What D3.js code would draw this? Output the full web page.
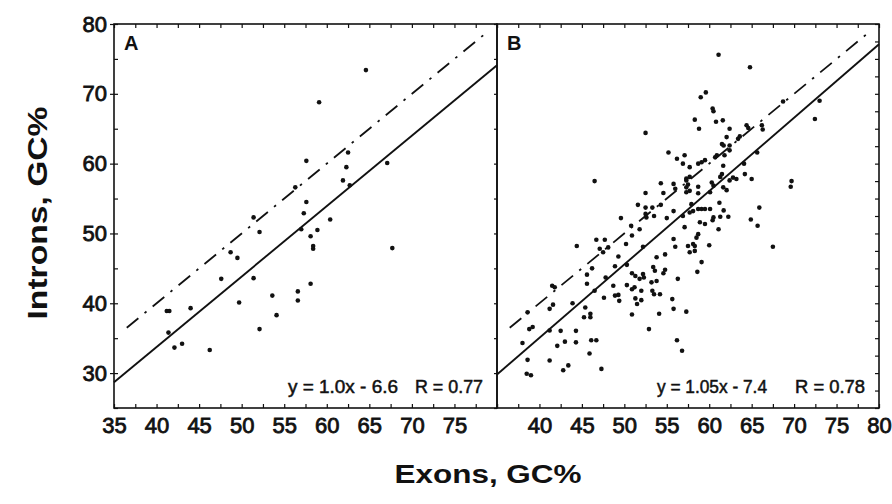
<!DOCTYPE html>
<html><head><meta charset="utf-8">
<script src="https://cdn.jsdelivr.net/npm/d3@7"></script>
<style>
html,body{margin:0;padding:0;background:#fff;}
svg text{font-family:"Liberation Sans",Arial,Helvetica,sans-serif;fill:#111;}
</style></head>
<body><svg id="chart" width="892" height="504"></svg>
<script>
// ---------- data ----------
const panelLabels = ["A", "B"];
const xTicksA = [35, 40, 45, 50, 55, 60, 65, 70, 75];
const xTicksB = [40, 45, 50, 55, 60, 65, 70, 75, 80];
const yTicks = [30, 40, 50, 60, 70, 80];
const xTitle = "Exons, GC%";
const yTitle = "Introns, GC%";
const eqA = ["y = 1.0x - 6.6", "R = 0.77"];
const eqB = ["y = 1.05x - 7.4", "R = 0.78"];
// regression line end points
const fitA = [[35, 28.7], [80, 74.1]];
const fitB = [[35, 29.8], [80, 77.1]];
// y = x reference (dash-dot) line, visible extent
const identity = [[36.5, 36.5], [78.7, 78.7]];

// Panel A points: exon GC%, intron GC%
const exonA = [64.6,59.1,57.6,62.5,62.3,67.1,61.9,62.7,56.3,57.6,51.4,57.3,52.1,57.0,60.4,58.1,58.9,58.4,58.4,67.7,48.7,49.5,47.6,51.4,58.1,56.6,53.6,56.6,49.7,54.1,41.2,41.5,44.0,41.4,42.1,43.0,46.25,52.1];
const intronA = [73.4,68.8,60.4,61.6,59.5,60.1,57.6,56.9,56.6,54.5,52.3,52.9,50.2,50.6,52.0,49.6,50.5,48.2,47.8,47.9,47.3,46.5,43.5,43.6,42.8,41.7,41.1,40.4,40.1,38.3,38.9,38.9,39.3,35.8,33.65,34.2,33.3,36.3];

// Panel B points
const exonB = [52.5,46.5,55.2,56.2,56.9,57.1,54.3,55.8,56.0,57.3,52.5,54.6,51.6,52.5,52.5,52.6,53.3,54.3,53.5,55.0,55.8,56.9,49.6,50.8,51.8,57.1,50.9,46.7,47.7,50.2,44.4,47.1,47.5,48.1,55.8,56.0,57.5,49.3,48.9,52.2,53.8,54.8,
 46.2,45.6,45.6,50.3,47.8,50.9,51.3,51.8,52.2,52.3,53.4,53.6,54.6,54.8,56.3,48.7,50.3,50.9,51.2,52.0,53.2,53.3,53.5,53.8,54.2,48.9,49.3,49.4,47.6,51.3,51.5,52.0,55.65,55.8,57.3,50.9,54.1,52.9,56.2,56.8,46.5,45.4,46.0,46.0,45.25,43.9,44.3,44.3,46.1,46.7,45.9,47.3,42.5,43.0,42.1,41.2,43.4,42.8,41.2,41.2,41.6,41.5,41.8,38.8,39.2,38.6,38.0,38.6,38.5,39.0,
 60.1,61.2,61.7,62.25,61.3,60.5,60.4,58.7,59.1,59.5,60.1,58.1,57.7,57.9,58.9,59.5,61.1,58.7,58.5,58.1,58.3,60.0,57.7,58.3,59.1,58.6,65.9,64.9,65.7,67.5,
 61.1,64.8,59.0,59.6,60.4,60.5,58.3,58.8,60.8,61.6,62.4,64.4,64.6,66.2,66.3,68.7,73.0,72.45,62.05,63.4,63.6,61.5,61.7,62.4,62.4,60.9,60.7,61.8,59.5,58.7,57.7,61.65,61.5,61.3,64.2,65.0,62.8,63.2,62.4,61.65,62.05,60.3,60.5,58.7,57.5,57.3,57.7,58.7,57.3,69.7,69.6,65.65,64.1,59.1,57.3,57.7];
const intronB = [64.4,57.5,61.6,60.7,60.0,61.2,57.2,57.1,56.4,56.6,55.8,55.8,54.1,53.7,52.8,52.3,53.7,54.1,52.5,52.2,53.2,52.5,52.2,51.1,50.6,50.9,49.7,49.1,49.1,48.5,48.2,47.8,47.3,48.0,49.2,48.1,48.2,46.7,45.3,48.1,46.6,47.0,
 45.0,44.1,42.8,45.5,43.7,44.3,43.9,43.5,44.2,43.7,45.2,44.65,44.3,44.8,43.5,42.5,42.6,42.0,42.3,41.8,43.0,41.8,41.3,43.2,41.3,41.1,41.2,40.35,40.8,40.7,39.9,40.45,40.6,39.2,38.8,38.4,38.5,36.3,34.7,33.2,41.8,39.4,38.5,38.0,38.0,40.0,36.05,34.4,34.7,34.7,32.8,30.6,36.05,34.5,33.9,31.8,31.1,30.4,36.1,39.2,39.8,42.5,42.3,36.3,36.6,38.7,34.3,31.9,29.9,29.7,
 55.9,54.4,53.3,52.4,52.4,52.3,51.9,53.5,53.5,53.5,53.5,53.2,53.0,54.2,51.6,51.35,50.6,49.9,49.4,48.5,48.2,48.3,47.3,47.5,45.9,44.5,53.7,52.0,51.1,48.1,
 75.6,73.8,69.5,70.2,67.9,67.5,66.3,65.0,66.0,66.2,65.0,65.5,65.1,65.5,64.9,68.9,69.0,66.4,63.8,63.55,63.9,62.8,62.6,62.6,61.9,61.2,60.9,61.2,60.5,60.0,59.5,59.7,58.5,58.1,58.5,57.8,58.0,57.8,57.6,56.6,56.2,57.3,56.85,56.7,57.0,57.85,58.1,55.75,55.9,57.5,56.7,61.6,60.0,60.2,57.6,56.1];

// ---------- drawing ----------
const svg = d3.select("#chart");
const y = d3.scaleLinear().domain([25, 80]).range([408, 24]);
const xA = d3.scaleLinear().domain([35, 80]).range([114, 497]);
const xB = d3.scaleLinear().domain([35, 80]).range([497, 879]);
const minorX = d3.range(35, 80.01, 2.5);
const minorY5 = d3.range(25, 80.01, 5);
const minorY25 = d3.range(25, 80.01, 2.5);

const labelFont = "22px";

function styleLabels(sel) {
  sel.selectAll("text").style("font-size", labelFont).attr("fill", "#111")
    .attr("stroke", "#111").attr("stroke-width", 0.8);
}

function panel(x, ex, inn, fit, eq, label, xTicks, isA, eqPos) {
  const g = svg.append("g");
  const [x0, x1] = x.range();
  const [y0, y1] = y.range();
  // frame
  g.append("rect").attr("x", x0).attr("y", y1).attr("width", x1 - x0).attr("height", y0 - y1)
    .attr("fill", "none").attr("stroke", "#111").attr("stroke-width", 1.6);

  // bottom minor ticks (inward)
  g.append("g").attr("transform", `translate(0,${y0})`)
    .call(d3.axisBottom(x).tickValues(minorX).tickSize(-4).tickFormat(""))
    .call(s => s.select(".domain").remove())
    .selectAll("line").attr("stroke", "#111").attr("stroke-width", 1.2);
  // top minor ticks (inward)
  g.append("g").attr("transform", `translate(0,${y1})`)
    .call(d3.axisTop(x).tickValues(minorX).tickSize(-4).tickFormat(""))
    .call(s => s.select(".domain").remove())
    .selectAll("line").attr("stroke", "#111").attr("stroke-width", 1.2);
  // bottom labels
  const lab = g.append("g").attr("transform", `translate(0,${y0})`)
    .call(d3.axisBottom(x).tickValues(xTicks).tickSize(0).tickPadding(9).tickFormat(d3.format("d")));
  lab.select(".domain").remove();
  styleLabels(lab);

  if (isA) {
    const ly = g.append("g").attr("transform", `translate(${x0},0)`)
      .call(d3.axisLeft(y).tickValues(yTicks).tickSize(4).tickPadding(3));
    ly.select(".domain").remove();
    ly.selectAll("line").attr("stroke", "#111").attr("stroke-width", 1.2);
    styleLabels(ly);
    g.append("g").attr("transform", `translate(${x0},0)`)
      .call(d3.axisLeft(y).tickValues(minorY5).tickSize(-4).tickFormat(""))
      .call(s => s.select(".domain").remove())
      .selectAll("line").attr("stroke", "#111").attr("stroke-width", 1.2);
  } else {
    g.append("g").attr("transform", `translate(${x0},0)`)
      .call(d3.axisLeft(y).tickValues(minorY5).tickSize(3).tickFormat(""))
      .call(s => s.select(".domain").remove())
      .selectAll("line").attr("stroke", "#111").attr("stroke-width", 1.2);
    g.append("g").attr("transform", `translate(${x1},0)`)
      .call(d3.axisRight(y).tickValues(minorY25).tickSize(-4).tickFormat(""))
      .call(s => s.select(".domain").remove())
      .selectAll("line").attr("stroke", "#111").attr("stroke-width", 1.2);
  }

  const line = d3.line().x(d => x(d[0])).y(d => y(d[1]));
  g.append("path").attr("d", line(identity)).attr("fill", "none")
    .attr("stroke", "#111").attr("stroke-width", 1.8)
    .attr("stroke-dasharray", "15,8,2.5,8");
  g.append("path").attr("d", line(fit)).attr("fill", "none")
    .attr("stroke", "#111").attr("stroke-width", 1.9);

  g.append("g").selectAll("circle").data(ex.map((v, i) => [v, inn[i]])).join("circle")
    .attr("cx", d => x(d[0])).attr("cy", d => y(d[1])).attr("r", 2.3).attr("fill", "#111");

  g.append("text").attr("x", x0 + 10).attr("y", y1 + 26).text(label)
    .style("font-size", "20px").style("font-weight", "bold");

  const eqY = 393;
  g.append("text").attr("x", x0 + eqPos[0]).attr("y", eqY)
    .attr("textLength", eqPos[1]).attr("lengthAdjust", "spacingAndGlyphs")
    .text(eq[0]).style("font-size", "18px").attr("stroke", "#111").attr("stroke-width", 0.5);
  g.append("text").attr("x", x0 + eqPos[2]).attr("y", eqY)
    .attr("textLength", eqPos[3]).attr("lengthAdjust", "spacingAndGlyphs")
    .text(eq[1]).style("font-size", "18px").attr("stroke", "#111").attr("stroke-width", 0.5);
}

panel(xA, exonA, intronA, fitA, eqA, panelLabels[0], xTicksA, true, [174, 110, 301, 68]);
panel(xB, exonB, intronB, fitB, eqB, panelLabels[1], xTicksB, false, [160, 110, 298, 70]);

svg.append("text").attr("x", 488).attr("y", 483).attr("text-anchor", "middle")
  .attr("textLength", 187).attr("lengthAdjust", "spacingAndGlyphs")
  .style("font-size", "26px").style("font-weight", "bold").text(xTitle);
svg.append("text").attr("transform", "translate(47,213) rotate(-90)").attr("text-anchor", "middle")
  .attr("textLength", 213).attr("lengthAdjust", "spacingAndGlyphs")
  .style("font-size", "28px").style("font-weight", "bold").text(yTitle);
</script></body></html>
